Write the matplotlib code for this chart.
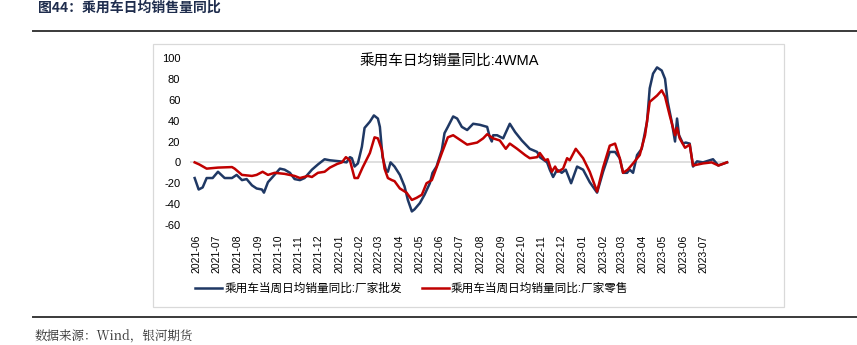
import pandas as pd
import matplotlib.pyplot as plt
import matplotlib.dates as mdates
from matplotlib.patches import Rectangle
from matplotlib.lines import Line2D

plt.rcParams['font.family'] = ['Liberation Sans', 'Noto Sans CJK SC']
plt.rcParams['axes.unicode_minus'] = False

# 乘用车当周日均销量同比:厂家批发 (%)
pf_dates = ['2021-05-29', '2021-06-04', '2021-06-10', '2021-06-16', '2021-06-25', '2021-07-03',
            '2021-07-13', '2021-07-24', '2021-07-31', '2021-08-08', '2021-08-15', '2021-08-23',
            '2021-08-30', '2021-09-07', '2021-09-10', '2021-09-16', '2021-09-23', '2021-10-04',
            '2021-10-11', '2021-10-19', '2021-10-26', '2021-11-03', '2021-11-10', '2021-11-21',
            '2021-11-30', '2021-12-10', '2021-12-18', '2022-01-02', '2022-01-12', '2022-01-17',
            '2022-01-20', '2022-01-24', '2022-01-29', '2022-02-04', '2022-02-08', '2022-02-16',
            '2022-02-22', '2022-02-28', '2022-03-03', '2022-03-07', '2022-03-12', '2022-03-15',
            '2022-03-19', '2022-03-25', '2022-04-02', '2022-04-09', '2022-04-14', '2022-04-20',
            '2022-04-24', '2022-05-02', '2022-05-09', '2022-05-17', '2022-05-21', '2022-05-27',
            '2022-06-04', '2022-06-08', '2022-06-13', '2022-06-21', '2022-06-27', '2022-07-04',
            '2022-07-12', '2022-07-21', '2022-07-31', '2022-08-11', '2022-08-15', '2022-08-18',
            '2022-08-20', '2022-08-26', '2022-09-04', '2022-09-14', '2022-09-22', '2022-10-02',
            '2022-10-14', '2022-10-25', '2022-10-29', '2022-11-09', '2022-11-13', '2022-11-18',
            '2022-11-24', '2022-12-01', '2022-12-07', '2022-12-15', '2022-12-24', '2023-01-02',
            '2023-01-12', '2023-01-23', '2023-02-01', '2023-02-11', '2023-02-19', '2023-02-26',
            '2023-03-03', '2023-03-09', '2023-03-13', '2023-03-18', '2023-03-24', '2023-03-31',
            '2023-04-08', '2023-04-12', '2023-04-17', '2023-04-23', '2023-04-30', '2023-05-05',
            '2023-05-09', '2023-05-15', '2023-05-20', '2023-05-23', '2023-05-26', '2023-06-01',
            '2023-06-05', '2023-06-11', '2023-06-16', '2023-06-22', '2023-07-01', '2023-07-16',
            '2023-07-24', '2023-08-06']
pf_vals = [-15, -26, -24, -15, -15, -9,
           -15, -15, -12, -17, -16, -22,
           -25, -26, -29, -19, -14, -6,
           -7, -10, -16, -17, -15, -7,
           -2, 3, 2, 1, 0, 5,
           4, -4, -1, 15, 33, 39,
           45, 42, 34, 5, -7, -9,
           0, -4, -12, -23, -36, -47,
           -45, -39, -31, -20, -10, -4,
           12, 28, 34, 44, 42, 34,
           31, 37, 36, 34, 24, 20,
           26, 26, 23, 37, 29, 21,
           13, 10, 5, 0, -7, -14,
           -7, -10, -7, -20, -4, -7,
           -19, -29, -9, 10, 10, 4,
           -10, -10, -7, -10, 7, 13,
           39, 71, 85, 91, 88, 80,
           58, 39, 20, 42, 26, 18,
           19, 18, -4, 1, 0, 3,
           -3, 0]

# 乘用车当周日均销量同比:厂家零售 (%)
ls_dates = ['2021-05-29', '2021-06-05', '2021-06-16', '2021-07-03', '2021-07-24', '2021-07-28',
            '2021-08-08', '2021-08-23', '2021-08-30', '2021-09-08', '2021-09-16', '2021-09-26',
            '2021-10-11', '2021-10-26', '2021-11-03', '2021-11-15', '2021-11-21', '2021-11-30',
            '2021-12-10', '2021-12-18', '2021-12-29', '2022-01-05', '2022-01-11', '2022-01-17',
            '2022-01-24', '2022-01-29', '2022-02-05', '2022-02-16', '2022-02-23', '2022-02-28',
            '2022-03-06', '2022-03-10', '2022-03-15', '2022-03-21', '2022-03-25', '2022-04-02',
            '2022-04-12', '2022-04-20', '2022-04-27', '2022-05-05', '2022-05-12', '2022-05-20',
            '2022-05-27', '2022-06-04', '2022-06-13', '2022-06-21', '2022-06-28', '2022-07-12',
            '2022-07-27', '2022-08-05', '2022-08-11', '2022-08-20', '2022-08-30', '2022-09-08',
            '2022-09-14', '2022-09-25', '2022-10-07', '2022-10-14', '2022-10-25', '2022-10-29',
            '2022-11-06', '2022-11-10', '2022-11-16', '2022-11-21', '2022-11-25', '2022-12-03',
            '2022-12-09', '2022-12-13', '2022-12-22', '2023-01-02', '2023-01-12', '2023-01-23',
            '2023-02-01', '2023-02-11', '2023-02-19', '2023-02-26', '2023-03-03', '2023-03-10',
            '2023-03-18', '2023-03-28', '2023-04-05', '2023-04-12', '2023-04-23', '2023-04-30',
            '2023-05-05', '2023-05-12', '2023-05-20', '2023-05-23', '2023-05-27', '2023-06-04',
            '2023-06-11', '2023-06-16', '2023-07-01', '2023-07-14', '2023-07-24', '2023-08-06']
ls_vals = [0, -2, -6, -5, -4.5, -6,
           -12, -13, -12, -9, -12, -10,
           -11, -13, -15, -13, -14, -10,
           -9, -5, -1.5, 0, 5, 2,
           -15, -15, -5, 9, 24, 23,
           12, -6, -15, -17, -18, -25,
           -29, -36, -34, -31, -20, -17,
           -5, 9, 24, 26, 23, 17,
           19, 23, 27, 23, 21, 13,
           18, 13, 7, 4, 5, 9,
           2, 3, -9, -4, -9, -6,
           4, 2, 13, 4, -9, -28,
           -5, 16, 18, 4, -10, -7,
           -1, 7, 26, 58, 64, 69,
           63, 45, 26, 33, 23, 14,
           17, -3, -1, 0, -3, 0]

y_ticks = [-60, -40, -20, 0, 20, 40, 60, 80, 100]

W, H = 857, 345
fig = plt.figure(figsize=(W / 100, H / 100), dpi=100)

def fx(px):
    return px / W

def fy(py):
    return 1 - py / H

# 页眉、分隔线与外框
fig.text(fx(38), fy(8), '图44：乘用车日均销售量同比', fontsize=10, fontweight='bold',
         color='#1f2d4d', ha='left', va='center', family=['Noto Sans CJK SC'])
fig.add_artist(Line2D([fx(33), 1], [fy(31), fy(31)], color='#3a3a3a', lw=1.4))
fig.add_artist(Line2D([fx(33), 1], [fy(317), fy(317)], color='#3a3a3a', lw=1.4))
fig.patches.append(Rectangle((fx(153), fy(307)), fx(784) - fx(153), fy(44) - fy(307),
                             transform=fig.transFigure, fill=False, ec='#d9d9d9', lw=0.9))
fig.text(fx(35), fy(337), '数据来源：Wind，银河期货', fontsize=9, color='#333333',
         ha='left', va='center', family=['Noto Serif CJK SC', 'Noto Sans CJK SC'])

ax = fig.add_axes([fx(190), fy(225), fx(729) - fx(190), fy(58) - fy(225)])

ax.plot(pd.to_datetime(pf_dates), pf_vals, color='#1f3864', lw=1.8,
        label='乘用车当周日均销量同比:厂家批发')
ax.plot(pd.to_datetime(ls_dates), ls_vals, color='#c00000', lw=1.8,
        label='乘用车当周日均销量同比:厂家零售')
ax.axhline(0, color='#d9d9d9', lw=1.2, zorder=0)

ax.set_ylim(-60, 100)
ax.set_yticks(y_ticks)
ax.set_xlim(pd.Timestamp('2021-05-22'), pd.Timestamp('2023-08-09'))
ax.set_xticks(pd.date_range('2021-06-01', '2023-07-01', freq='MS'))
ax.xaxis.set_major_formatter(mdates.DateFormatter('%Y-%m'))

for s in ax.spines.values():
    s.set_visible(False)
ax.tick_params(axis='both', length=0, labelsize=8, colors='#000000')
ax.tick_params(axis='y', pad=7)
ax.tick_params(axis='x', pad=7, labelrotation=90, labelsize=7.5)
ax.patch.set_alpha(0)

fig.text(fx(449), fy(62), '乘用车日均销量同比:4WMA', fontsize=10.5, ha='center', va='center')

fig.legend(loc='center', bbox_to_anchor=(fx(412), fy(289)), ncol=2, frameon=False,
           fontsize=8.4, handlelength=2.3, columnspacing=1.7, handletextpad=0.2)

fig.savefig('out.png', dpi=100)
